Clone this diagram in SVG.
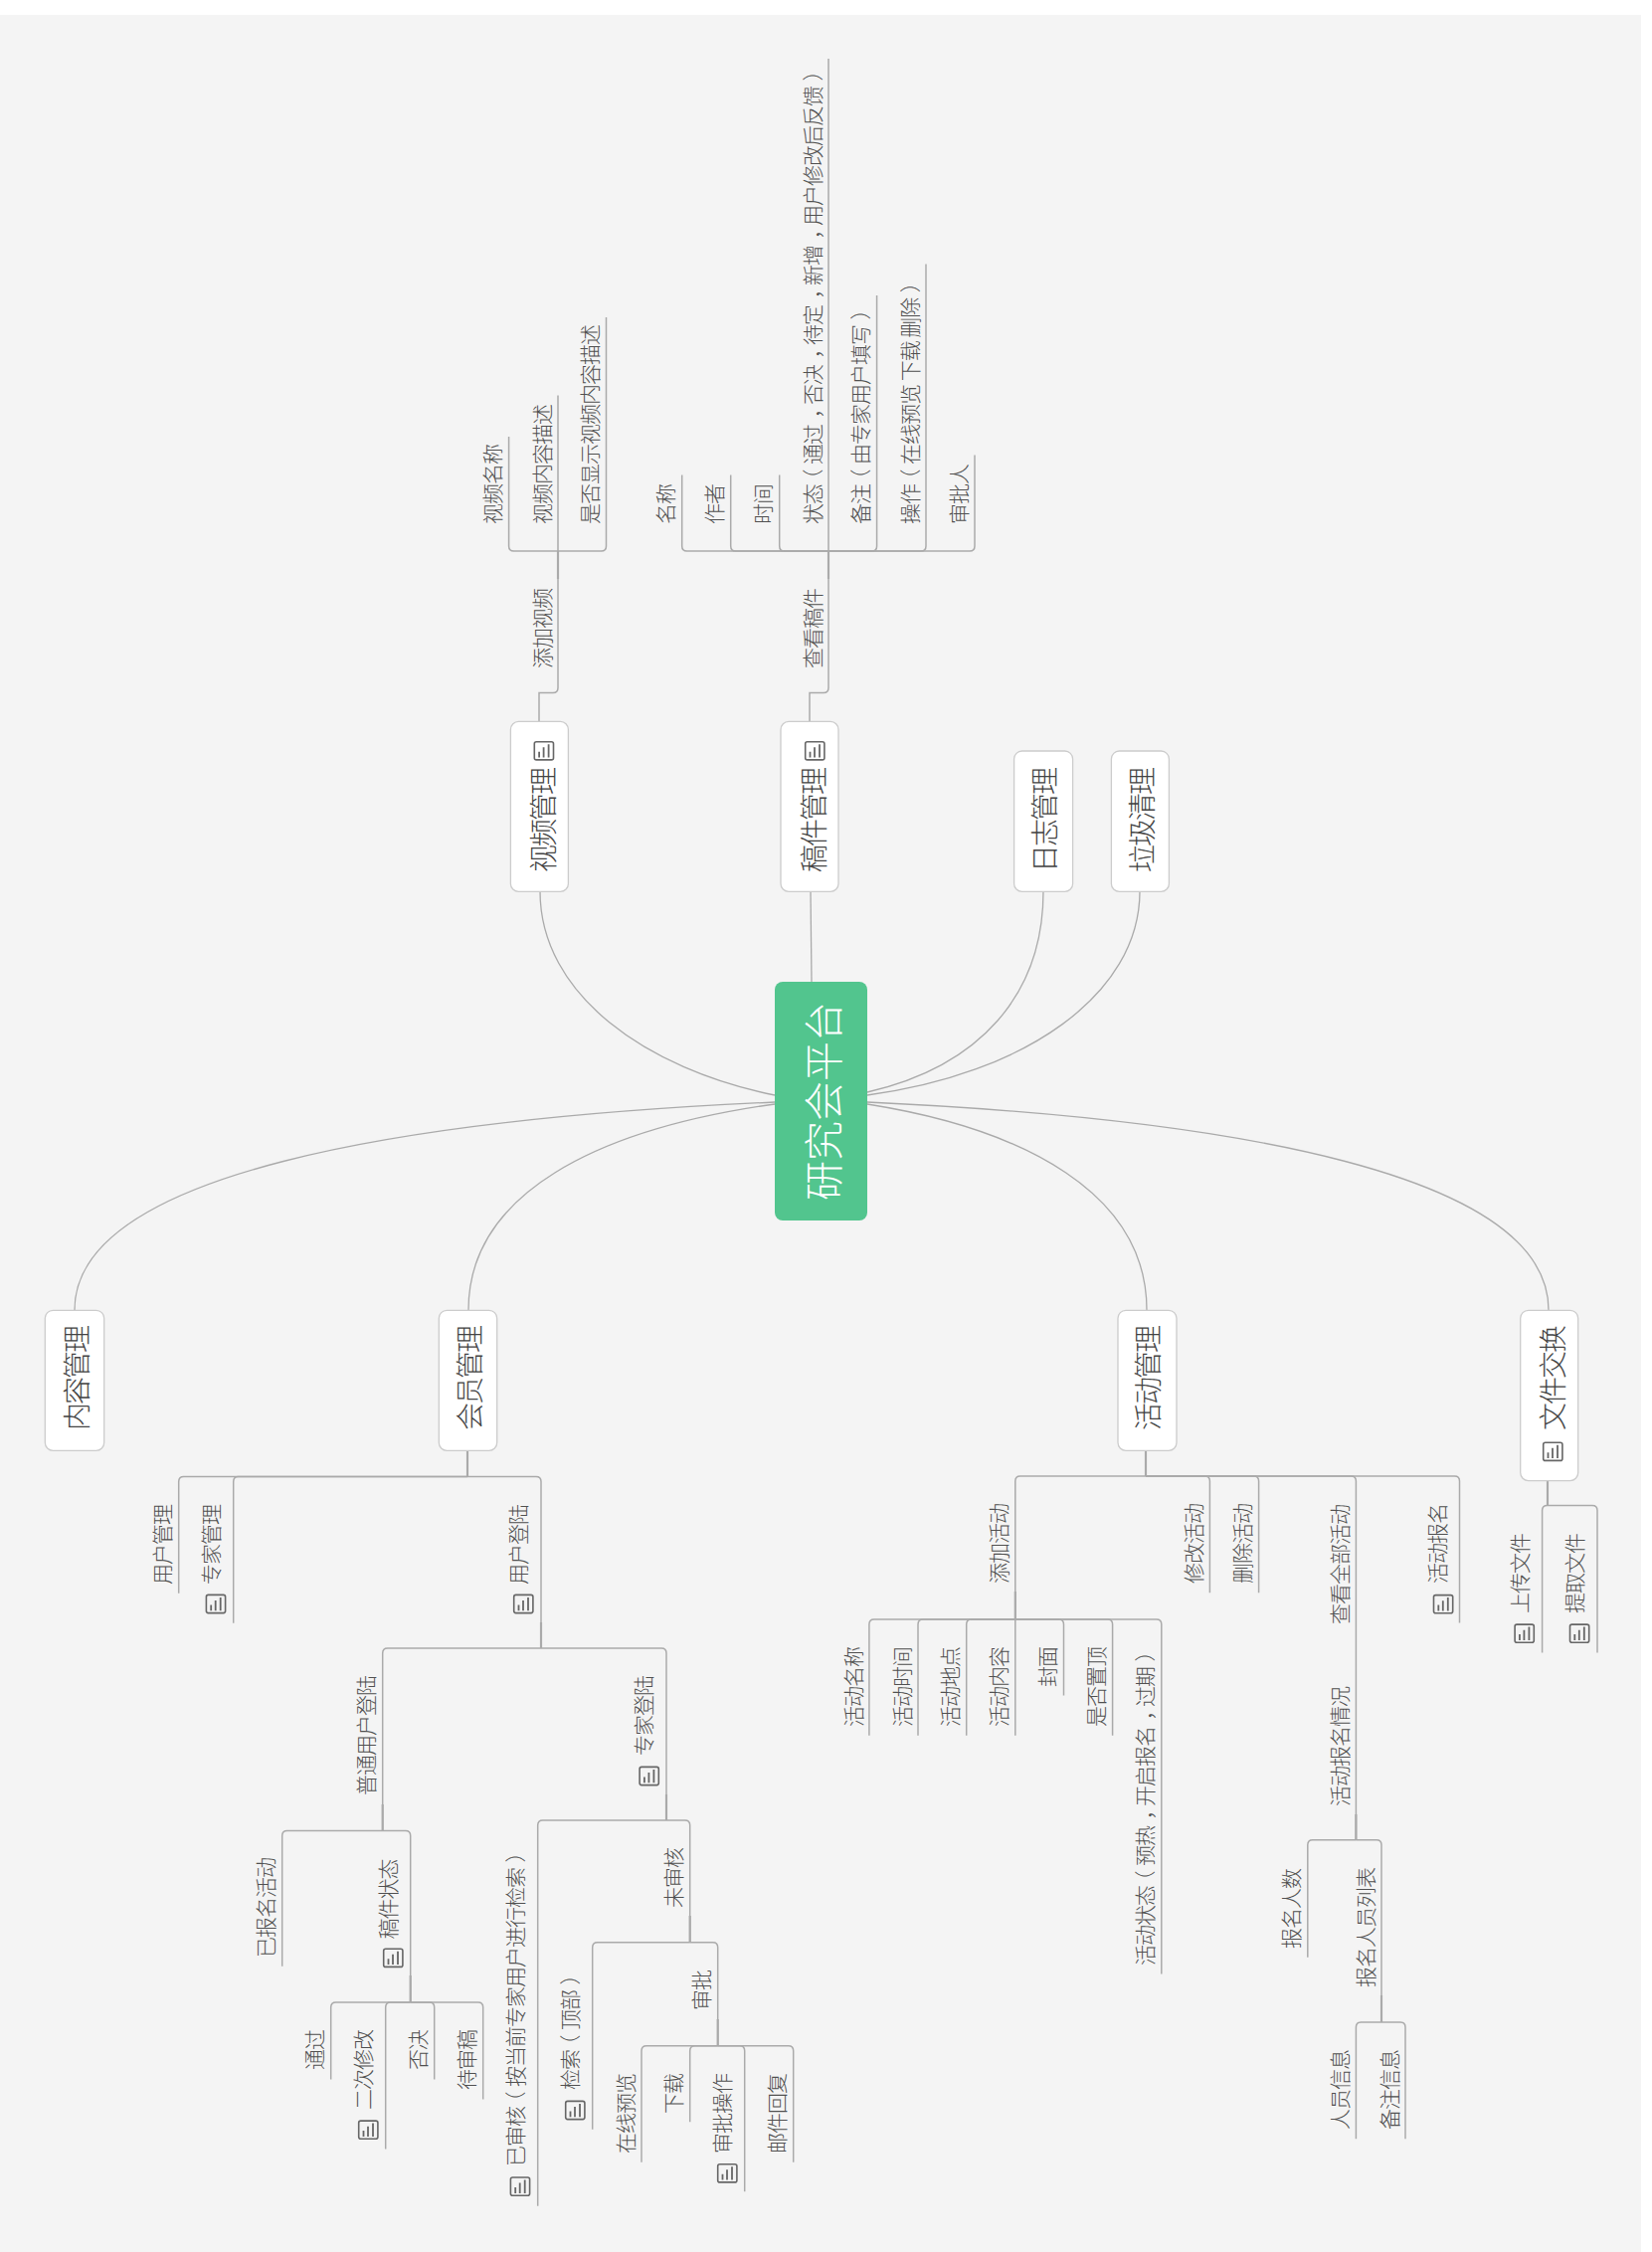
<svg xmlns="http://www.w3.org/2000/svg" width="1661" height="2264" viewBox="0 0 1661 2264">
<style>
text{font-family:"Noto Sans CJK SC","Liberation Sans",sans-serif;font-weight:300}
.t{font-size:21px;letter-spacing:-1px;fill:#505050}
.n{font-size:28px;letter-spacing:-2px;fill:#444}
.c{font-size:40px;fill:#fff;text-anchor:middle}
.box{fill:#fff;stroke:#ccc;stroke-width:1.3}
.curve{fill:none;stroke:#aaa;stroke-width:1.3}
.line{fill:none;stroke:#aaa;stroke-width:1.5}
.stub{fill:none;stroke:#aaa;stroke-width:2.2}
</style>
<defs>
<g id="ico" fill="none" stroke="#666">
<rect x="0.7" y="0.7" width="19.2" height="18.2" rx="2" stroke-width="1.6"/>
<path d="M5.5 10.7V16.6M10 6.3V16.6M15 3.2V16.6" stroke-width="1.8"/>
</g>
</defs>
<rect width="1661" height="2264" fill="#fff"/>
<rect x="0" y="15" width="1650" height="2249" fill="#f4f4f4"/>
<g id="connectors">
<path class="curve" d="M779 1101C650 1075 543 1000 543 896"/>
<path class="curve" d="M815 896L816 987"/>
<path class="curve" d="M872 1098C985 1072 1049 1000 1049 896"/>
<path class="curve" d="M872 1101C1030 1080 1146 1000 1146 896"/>
<path class="curve" d="M779 1108C400 1125 75 1180 75 1317"/>
<path class="curve" d="M779 1110C600 1135 471 1200 471 1317"/>
<path class="curve" d="M872 1110C1030 1135 1153 1200 1153 1317"/>
<path class="curve" d="M872 1108C1240 1125 1557 1180 1557 1317"/>
<path class="line" d="M542 726V696.6H556Q561 696.6 561 691.6V554"/>
<path class="stub" d="M561 582V554"/>
<path class="line" d="M561 554H516.6Q511.6 554 511.6 549V439"/>
<path class="line" d="M561 554V397.5"/>
<path class="line" d="M561 554H604.5Q609.5 554 609.5 549V319"/>
<path class="line" d="M814 726V696.6H828Q833 696.6 833 691.6V554"/>
<path class="stub" d="M833 582V554"/>
<path class="line" d="M833 554H690.7Q685.7 554 685.7 549V477.5"/>
<path class="line" d="M833 554H739.7Q734.7 554 734.7 549V477.5"/>
<path class="line" d="M833 554H788.7Q783.7 554 783.7 549V477.5"/>
<path class="line" d="M833 554V59"/>
<path class="line" d="M833 554H876.6Q881.6 554 881.6 549V297"/>
<path class="line" d="M833 554H926Q931 554 931 549V265.6"/>
<path class="line" d="M833 554H975Q980 554 980 549V457.6"/>
<path class="stub" d="M470 1458V1484.5"/>
<path class="line" d="M470 1484.5H184.7Q179.7 1484.5 179.7 1489.5V1601.7"/>
<path class="line" d="M470 1484.5H239.7Q234.7 1484.5 234.7 1489.5V1631.7"/>
<path class="line" d="M470 1484.5H539Q544 1484.5 544 1489.5V1657"/>
<path class="stub" d="M544 1631V1657"/>
<path class="line" d="M544 1657H389.7Q384.7 1657 384.7 1662V1840.6"/>
<path class="line" d="M544 1657H665Q670 1657 670 1662V1830"/>
<path class="stub" d="M384.7 1814V1840.6"/>
<path class="stub" d="M670 1804V1830"/>
<path class="line" d="M384.7 1840.6H288.7Q283.7 1840.6 283.7 1845.6V1976.8"/>
<path class="line" d="M384.7 1840.6H407.7Q412.7 1840.6 412.7 1845.6V2013"/>
<path class="stub" d="M412.7 1986V2013"/>
<path class="line" d="M412.7 2013H337.7Q332.7 2013 332.7 2018V2090.6"/>
<path class="line" d="M412.7 2013H392.7Q387.7 2013 387.7 2018V2160.5"/>
<path class="line" d="M412.7 2013H431.7Q436.7 2013 436.7 2018V2090.6"/>
<path class="line" d="M412.7 2013H480.7Q485.7 2013 485.7 2018V2110.5"/>
<path class="line" d="M670 1830H545.7Q540.7 1830 540.7 1835V2217.7"/>
<path class="line" d="M670 1830H688.7Q693.7 1830 693.7 1835V1952.7"/>
<path class="stub" d="M693.7 1926V1952.7"/>
<path class="line" d="M693.7 1952.7H600.7Q595.7 1952.7 595.7 1957.7V2140.7"/>
<path class="line" d="M693.7 1952.7H716.7Q721.7 1952.7 721.7 1957.7V2056.7"/>
<path class="stub" d="M721.7 2030V2056.7"/>
<path class="line" d="M721.7 2056.7H650Q645 2056.7 645 2061.7V2173.7"/>
<path class="line" d="M721.7 2056.7H698.7Q693.7 2056.7 693.7 2061.7V2133.3"/>
<path class="line" d="M721.7 2056.7H743.7Q748.7 2056.7 748.7 2061.7V2203.3"/>
<path class="line" d="M721.7 2056.7H792.7Q797.7 2056.7 797.7 2061.7V2173.7"/>
<path class="stub" d="M1152 1459V1484"/>
<path class="line" d="M1152 1484H1025.8Q1020.8 1484 1020.8 1489V1628"/>
<path class="line" d="M1152 1484H1211.4Q1216.4 1484 1216.4 1489V1601.3"/>
<path class="line" d="M1152 1484H1260.6Q1265.6 1484 1265.6 1489V1601.3"/>
<path class="line" d="M1152 1484H1358.4Q1363.4 1484 1363.4 1489V1849.8"/>
<path class="line" d="M1152 1484H1462.5Q1467.5 1484 1467.5 1489V1631.4"/>
<path class="stub" d="M1020.8 1600V1628"/>
<path class="line" d="M1020.8 1628H878.9Q873.9 1628 873.9 1633V1744.7"/>
<path class="line" d="M1020.8 1628H928Q923 1628 923 1633V1744.7"/>
<path class="line" d="M1020.8 1628H976.7Q971.7 1628 971.7 1633V1744.7"/>
<path class="line" d="M1020.8 1628V1744.7"/>
<path class="line" d="M1020.8 1628H1064.5Q1069.5 1628 1069.5 1633V1704.4"/>
<path class="line" d="M1020.8 1628H1113.6Q1118.6 1628 1118.6 1633V1744.7"/>
<path class="line" d="M1020.8 1628H1162.8Q1167.8 1628 1167.8 1633V1984.5"/>
<path class="stub" d="M1363.4 1824V1849.8"/>
<path class="line" d="M1363.4 1849.8H1319.8Q1314.8 1849.8 1314.8 1854.8V1967.7"/>
<path class="line" d="M1363.4 1849.8H1384Q1389 1849.8 1389 1854.8V2033"/>
<path class="stub" d="M1389 2006V2033"/>
<path class="line" d="M1389 2033H1368.4Q1363.4 2033 1363.4 2038V2150.3"/>
<path class="line" d="M1389 2033H1408Q1413 2033 1413 2038V2150.3"/>
<path class="stub" d="M1556 1489V1513.6"/>
<path class="line" d="M1556 1513.6H1555.6Q1550.6 1513.6 1550.6 1518.6V1661.5"/>
<path class="line" d="M1556 1513.6H1601Q1606 1513.6 1606 1518.6V1661.5"/>
</g>
<g id="root"><rect x="779" y="987" width="93" height="240" rx="8" fill="#52c58e"/><text class="c" transform="translate(843,1107) rotate(-90)">研究会平台</text></g>
<g id="node-video"><rect class="box" x="513.4" y="725.4" width="58" height="171" rx="8"/><text class="n" transform="translate(557,877) rotate(-90)">视频管理</text><use href="#ico" x="536.6" y="745"/></g>
<g id="node-paper"><rect class="box" x="785" y="725.4" width="58" height="171" rx="8"/><text class="n" transform="translate(828.6,877) rotate(-90)">稿件管理</text><use href="#ico" x="809" y="745"/></g>
<g id="node-log"><rect class="box" x="1019.6" y="755" width="59" height="141.4" rx="8"/><text class="n" transform="translate(1061,877) rotate(-90)">日志管理</text></g>
<g id="node-trash"><rect class="box" x="1117.4" y="755" width="58" height="141.4" rx="8"/><text class="n" transform="translate(1159,877) rotate(-90)">垃圾清理</text></g>
<g id="node-content"><rect class="box" x="45.3" y="1317.3" width="59.4" height="141" rx="8"/><text class="n" transform="translate(88,1438) rotate(-90)">内容管理</text></g>
<g id="node-member"><rect class="box" x="441.3" y="1317.3" width="58.4" height="141" rx="8"/><text class="n" transform="translate(483,1438) rotate(-90)">会员管理</text></g>
<g id="node-activity"><rect class="box" x="1124" y="1317.3" width="59" height="141" rx="8"/><text class="n" transform="translate(1165,1438) rotate(-90)">活动管理</text></g>
<g id="node-file"><rect class="box" x="1528.7" y="1317.3" width="58" height="171.3" rx="8"/><text class="n" transform="translate(1572,1438) rotate(-90)">文件交换</text><use href="#ico" x="1551" y="1449.5"/></g>
<g id="leaf-video-1"><text class="t" transform="translate(503,527) rotate(-90)">视频名称</text></g>
<g id="leaf-video-2"><text class="t" transform="translate(552.5,527) rotate(-90)">视频内容描述</text></g>
<g id="leaf-video-3"><text class="t" transform="translate(601,527) rotate(-90)">是否显示视频内容描述</text></g>
<g id="leaf-video-add"><text class="t" transform="translate(552.5,672) rotate(-90)">添加视频</text></g>
<g id="leaf-paper-view"><text class="t" transform="translate(824.5,672) rotate(-90)">查看稿件</text></g>
<g id="leaf-paper-1"><text class="t" transform="translate(677,527) rotate(-90)">名称</text></g>
<g id="leaf-paper-2"><text class="t" transform="translate(726,527) rotate(-90)">作者</text></g>
<g id="leaf-paper-3"><text class="t" transform="translate(775,527) rotate(-90)">时间</text></g>
<g id="leaf-paper-4"><text class="t" transform="translate(824.5,527) rotate(-90)">状态<tspan dx="-5.5">（</tspan><tspan dx="5.5">通过</tspan><tspan dx="6.5">，</tspan><tspan dx="-6.5">否决</tspan><tspan dx="6.5">，</tspan><tspan dx="-6.5">待定</tspan><tspan dx="6.5">，</tspan><tspan dx="-6.5">新增</tspan><tspan dx="6.5">，</tspan><tspan dx="-6.5">用户修改后反馈</tspan><tspan dx="5.5">）</tspan></text></g>
<g id="leaf-paper-5"><text class="t" transform="translate(873,527) rotate(-90)">备注<tspan dx="-5.5">（</tspan><tspan dx="5.5">由专家用户填写</tspan><tspan dx="5.5">）</tspan></text></g>
<g id="leaf-paper-6"><text class="t" transform="translate(922.5,527) rotate(-90)">操作<tspan dx="-5.5">（</tspan><tspan dx="5.5">在线预览 下载 删除</tspan><tspan dx="5.5">）</tspan></text></g>
<g id="leaf-paper-7"><text class="t" transform="translate(971.5,527) rotate(-90)">审批人</text></g>
<g id="leaf-user-mgr"><text class="t" transform="translate(171,1593) rotate(-90)">用户管理</text></g>
<g id="leaf-expert-mgr"><text class="t" transform="translate(220,1593) rotate(-90)">专家管理</text><use href="#ico" x="206.7" y="1602.7"/></g>
<g id="leaf-user-login"><text class="t" transform="translate(529,1593) rotate(-90)">用户登陆</text><use href="#ico" x="516" y="1602.7"/></g>
<g id="leaf-normal-login"><text class="t" transform="translate(376,1805) rotate(-90)">普通用户登陆</text></g>
<g id="leaf-expert-login"><text class="t" transform="translate(655,1765) rotate(-90)">专家登陆</text><use href="#ico" x="642.4" y="1775.7"/></g>
<g id="leaf-signed"><text class="t" transform="translate(275,1968) rotate(-90)">已报名活动</text></g>
<g id="leaf-paper-status"><text class="t" transform="translate(398,1949.5) rotate(-90)">稿件状态</text><use href="#ico" x="385" y="1958.5"/></g>
<g id="leaf-pass"><text class="t" transform="translate(324,2081) rotate(-90)">通过</text></g>
<g id="leaf-revise"><text class="t" transform="translate(373,2121) rotate(-90)">二次修改</text><use href="#ico" x="360" y="2131.4"/></g>
<g id="leaf-reject"><text class="t" transform="translate(428,2081) rotate(-90)">否决</text></g>
<g id="leaf-pending"><text class="t" transform="translate(477,2101) rotate(-90)">待审稿</text></g>
<g id="leaf-approved"><text class="t" transform="translate(526,2178) rotate(-90)">已审核<tspan dx="-5.5">（</tspan><tspan dx="5.5">按当前专家用户进行检索</tspan><tspan dx="5.5">）</tspan></text><use href="#ico" x="512.7" y="2188.3"/></g>
<g id="leaf-unapproved"><text class="t" transform="translate(685,1918) rotate(-90)">未审核</text></g>
<g id="leaf-search"><text class="t" transform="translate(581,2101) rotate(-90)">检索<tspan dx="-5.5">（</tspan><tspan dx="5.5">顶部</tspan><tspan dx="5.5">）</tspan></text><use href="#ico" x="568" y="2111.7"/></g>
<g id="leaf-approve"><text class="t" transform="translate(713,2021) rotate(-90)">审批</text></g>
<g id="leaf-preview"><text class="t" transform="translate(636.5,2165) rotate(-90)">在线预览</text></g>
<g id="leaf-download"><text class="t" transform="translate(685,2125) rotate(-90)">下载</text></g>
<g id="leaf-approve-op"><text class="t" transform="translate(734,2165) rotate(-90)">审批操作</text><use href="#ico" x="721" y="2175"/></g>
<g id="leaf-mail"><text class="t" transform="translate(789,2165) rotate(-90)">邮件回复</text></g>
<g id="leaf-add-activity"><text class="t" transform="translate(1012,1592) rotate(-90)">添加活动</text></g>
<g id="leaf-edit-activity"><text class="t" transform="translate(1208,1592) rotate(-90)">修改活动</text></g>
<g id="leaf-del-activity"><text class="t" transform="translate(1257,1592) rotate(-90)">删除活动</text></g>
<g id="leaf-view-all"><text class="t" transform="translate(1355,1633) rotate(-90)">查看全部活动</text></g>
<g id="leaf-signup"><text class="t" transform="translate(1453,1592) rotate(-90)">活动报名</text><use href="#ico" x="1440.8" y="1602.9"/></g>
<g id="leaf-a1"><text class="t" transform="translate(865.5,1736) rotate(-90)">活动名称</text></g>
<g id="leaf-a2"><text class="t" transform="translate(914.5,1736) rotate(-90)">活动时间</text></g>
<g id="leaf-a3"><text class="t" transform="translate(963,1736) rotate(-90)">活动地点</text></g>
<g id="leaf-a4"><text class="t" transform="translate(1012,1736) rotate(-90)">活动内容</text></g>
<g id="leaf-a5"><text class="t" transform="translate(1061,1696) rotate(-90)">封面</text></g>
<g id="leaf-a6"><text class="t" transform="translate(1110,1736) rotate(-90)">是否置顶</text></g>
<g id="leaf-a7"><text class="t" transform="translate(1159,1976) rotate(-90)">活动状态<tspan dx="-5.5">（</tspan><tspan dx="5.5">预热</tspan><tspan dx="6.5">，</tspan><tspan dx="-6.5">开启报名</tspan><tspan dx="6.5">，</tspan><tspan dx="-6.5">过期</tspan><tspan dx="5.5">）</tspan></text></g>
<g id="leaf-signup-status"><text class="t" transform="translate(1355,1816) rotate(-90)">活动报名情况</text></g>
<g id="leaf-count"><text class="t" transform="translate(1306,1959) rotate(-90)">报名人数</text></g>
<g id="leaf-list"><text class="t" transform="translate(1380.5,1998) rotate(-90)">报名人员列表</text></g>
<g id="leaf-person"><text class="t" transform="translate(1355,2141) rotate(-90)">人员信息</text></g>
<g id="leaf-note"><text class="t" transform="translate(1404.5,2141) rotate(-90)">备注信息</text></g>
<g id="leaf-upload"><text class="t" transform="translate(1536,1622) rotate(-90)">上传文件</text><use href="#ico" x="1522.4" y="1632.4"/></g>
<g id="leaf-fetch"><text class="t" transform="translate(1591,1622) rotate(-90)">提取文件</text><use href="#ico" x="1577.8" y="1632.4"/></g>
</svg>
